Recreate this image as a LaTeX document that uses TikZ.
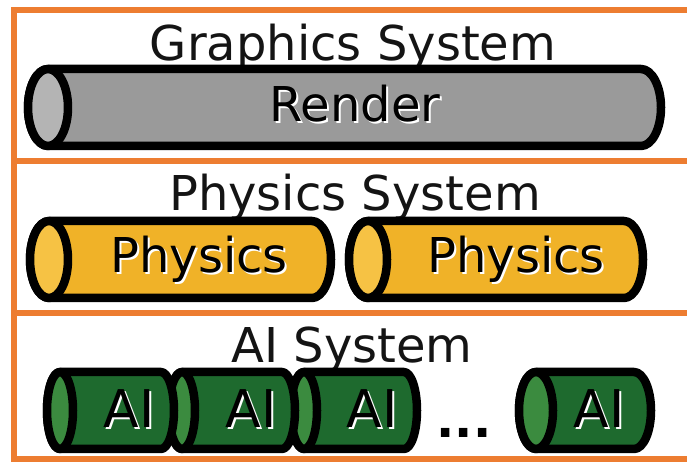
\documentclass[tikz,border=0pt]{standalone}
\usepackage{fontspec}
\setmainfont{DejaVu Sans}
\usetikzlibrary{calc}

\definecolor{frameorange}{HTML}{ED7D31}
\definecolor{titleink}{HTML}{141414}
\definecolor{renderbody}{HTML}{9A9A9A}
\definecolor{renderface}{HTML}{B4B4B4}
\definecolor{physbody}{HTML}{F0B228}
\definecolor{physface}{HTML}{F6C244}
\definecolor{aibody}{HTML}{1E6A2E}
\definecolor{aiface}{HTML}{3B8B3F}

% Text with a light drop shadow below right
\newcommand\embossed[1]{\makebox[0pt][l]{\hspace{2pt}\raisebox{-2pt}{\textcolor{white}{#1}}}#1}

% A horizontal tube: #1 name, #2 face centre x, #3 far end x, #4 axis y,
% #5 end radius, #6 body colour, #7 face colour
\newcommand\tube[7]{%
  \filldraw[tubeline, fill=#6]
    (#2,{#4+38.5}) -- (#3,{#4+38.5})
    arc[start angle=90, end angle=-90, x radius=#5, y radius=38.5]
    -- (#2,{#4-38.5})
    arc[start angle=270, end angle=90, x radius=#5, y radius=38.5] -- cycle;
  \filldraw[tubeline, fill=#7] (#2,#4) ellipse[x radius=#5, y radius=38.5];
  \coordinate (#1) at (#2,#4);
}

\tikzset{
  tubeline/.style={draw=black, line width=8.5pt, line join=round},
  framerule/.style={draw=frameorange, line width=6pt},
  title/.style={anchor=base, inner sep=0pt, text=titleink,
    font=\fontsize{48}{50}\selectfont},
  tubelabel/.style={anchor=base, inner sep=0pt, text=black,
    font=\fontsize{48}{50}\selectfont},
  ailabel/.style={tubelabel, font=\fontsize{52}{54}\selectfont},
}

\begin{document}
\begin{tikzpicture}[x=1pt, y=1pt]
  \fill[white] (0,0) rectangle (687,462);
  \useasboundingbox (0,0) rectangle (687,462);

  % frame and row separators
  \draw[framerule] (14,-5) -- (14,455);
  \draw[framerule] (11,452) -- (700,452);
  \draw[framerule] (11,301) -- (700,301);
  \draw[framerule] (11,149) -- (700,149);
  \draw[framerule] (11,3) -- (700,3);

  % graphics row
  \node[title] (tGfx) at (353,401) {Graphics System};
  \tube{cRender}{48}{641}{354.5}{20}{renderbody}{renderface}
  \node[tubelabel] (lRender) at (355,340) {\embossed{Render}};

  % physics row
  \node[title] (tPhys) at (355,251) {Physics System};
  \tube{cPhysA}{49}{312}{202.5}{19}{physbody}{physface}
  \node[tubelabel] (lPhysA) at (199,189) {\embossed{Physics}};
  \tube{cPhysB}{368}{624}{202.5}{19}{physbody}{physface}
  \node[tubelabel] (lPhysB) at (516,189) {\embossed{Physics}};

  % AI row (drawn right to left so each tube overlaps the next)
  \node[title] (tAI) at (352,99) {AI System};
  \tube{cAId}{536}{634}{51.5}{17}{aibody}{aiface}
  \node[ailabel] (lAId) at (599,34) {\embossed{AI}};
  \node[tubelabel, font=\fontsize{48}{50}\bfseries] (dots) at (464,24) {...};
  \tube{cAIc}{304}{404}{51.5}{13}{aibody}{aiface}
  \node[ailabel] (lAIc) at (372,34) {\embossed{AI}};
  \tube{cAIb}{182}{282}{51.5}{13}{aibody}{aiface}
  \node[ailabel] (lAIb) at (251,34) {\embossed{AI}};
  \tube{cAIa}{60}{161}{51.5}{13}{aibody}{aiface}
  \node[ailabel] (lAIa) at (129,34) {\embossed{AI}};
\end{tikzpicture}
\end{document}
